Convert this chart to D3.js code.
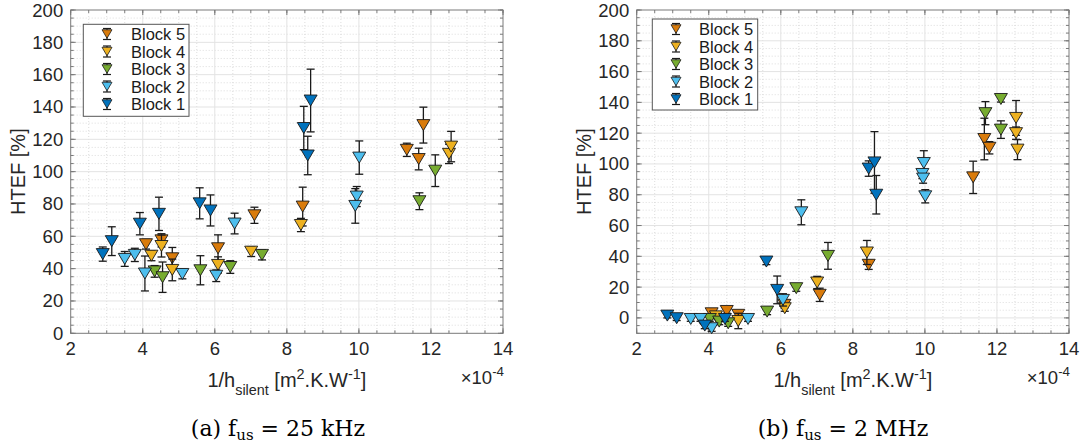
<!DOCTYPE html>
<html><head><meta charset="utf-8">
<script src="https://cdn.jsdelivr.net/npm/d3@7"></script>
<style>body{margin:0;background:#fff} svg{display:block}</style>
</head><body><svg id="c" width="1085" height="448"></svg>
<script>
// ---------------- DATA ----------------
const BLOCKS = ["Block 5", "Block 4", "Block 3", "Block 2", "Block 1"];
const X_TICKS = [2, 4, 6, 8, 10, 12, 14];
const Y_TICKS = [0, 20, 40, 60, 80, 100, 120, 140, 160, 180, 200];
const X_EXPONENT = "-4";
const CAPTIONS = [["(a) f", "us", "=", "25 kHz"], ["(b) f", "us", "=", "2 MHz"]];

// [1/h_silent (x1e-4), HTEF %, error]
const khz25_block5 = [[4.09,55.1,3],[4.52,57.5,4.1],[4.82,46.4,6.7],[6.09,52.6,8.3],[7.10,73,5],[8.44,78.4,12],[11.33,113.5,4.1],[11.66,107.8,6.7],[11.79,128.8,11.1]];
const khz25_block4 = [[4.24,48,3.1],[4.52,54,6.8],[4.82,39.2,6.7],[6.09,42.3,5],[7.01,50.5,3],[8.39,67,4.1],[12.50,111,6],[12.56,115.5,9.4]];
const khz25_block3 = [[4.33,38.3,3.6],[4.55,34.7,9.4],[5.60,39,9],[6.43,41,3.9],[7.31,48.5,3.1],[11.68,81.7,5.2],[12.12,100.6,9.8]];
const khz25_block2 = [[3.50,46,4.6],[3.78,48.5,4.1],[4.06,37,10.8],[5.10,36.7,3],[6.04,35.6,3.6],[6.55,67.9,6.4],[10.01,108.7,10.3],[9.94,84.6,6.2],[9.90,78.8,10.7]];
const khz25_block1 = [[2.89,49,4.4],[3.14,57,8.9],[3.92,67.8,6.9],[4.45,73.9,10.3],[5.58,80.4,9.6],[5.88,76,9.6],[8.47,127,13.4],[8.66,144,19.4],[8.58,110,11.9]];

const mhz2_block5 = [[4.08,3,1.5],[4.50,4.5,1.5],[4.82,2,2],[6.10,8.5,2],[7.08,15,4.3],[8.44,34.5,3],[11.34,91.3,10.5],[11.65,116.2,13.5],[11.79,110.5,4]];
const mhz2_block4 = [[4.20,1,1.5],[4.82,-2,5],[6.11,6.3,2],[7.01,23,4],[8.39,42.5,7.8],[12.53,129.9,11.3],[12.53,120,4],[12.57,109.3,6.5]];
const mhz2_block3 = [[4.03,-0.7,1.5],[4.29,-2.4,2],[4.54,-3.5,2],[5.62,4.1,2],[6.43,19.3,2],[7.31,40.3,8.7],[11.68,133,7.5],[12.11,142.2,2],[12.11,122.3,5.7]];
const mhz2_block2 = [[3.50,-0.7,1.5],[3.77,-0.7,1.5],[4.08,-6.7,2],[5.09,-0.7,1.5],[6.06,11.7,4],[6.57,68.6,8.1],[9.93,93.5,3],[9.95,90.5,3],[9.97,100.6,8],[10.01,79,4.3]];
const mhz2_block1 = [[2.85,1.5,1.5],[3.11,-0.2,1.5],[3.89,-5,2],[4.45,-0.7,1.5],[5.60,36.6,2],[5.90,18.2,9],[8.44,97,5],[8.60,101,20],[8.65,80,12.5]];

// ---------------- STYLE / LAYOUT ----------------
const COLORS = ["#D97B0B", "#EDB120", "#77AC30", "#4DBEEE", "#0072BD"];
const panels = [
  { series: [khz25_block5, khz25_block4, khz25_block3, khz25_block2, khz25_block1],
    left: 70.7, right: 503, top: 10, bottom: 333.3, yDomain: [0, 200],
    legend: { x: 83.3, y: 24.3, w: 105.7, h: 92, rows: [34, 51.5, 69, 86.5, 104], mx: 107, tx: 131 },
    captionX: 278, ylabelX: 25 },
  { series: [mhz2_block5, mhz2_block4, mhz2_block3, mhz2_block2, mhz2_block1],
    left: 636.7, right: 1069, top: 10, bottom: 333.3, yDomain: [-10, 200],
    legend: { x: 652.3, y: 19, w: 105.4, h: 91, rows: [29, 46.5, 64, 81.5, 99], mx: 676, tx: 699 },
    captionX: 843, ylabelX: 591 }
];

const svg = d3.select("#c");
const FONT = "'Liberation Sans', Arial, Helvetica, sans-serif";

function richText(g, x, y, segs, size, anchor) {
  const t = g.append("text").attr("x", x).attr("y", y)
    .attr("font-family", FONT).attr("font-size", size).attr("fill", "#262626")
    .attr("text-anchor", anchor || "start");
  let cur = 0;
  segs.forEach(s => {
    const target = s.m === "sub" ? size * 0.38 : s.m === "sup" ? -size * 0.42 : 0;
    t.append("tspan").attr("dy", target - cur)
      .attr("font-size", s.m ? size * 0.72 : size).text(s.t);
    cur = target;
  });
  return t;
}

function trianglePath(w, h) {
  return `M${-w/2},${-h/2}L${w/2},${-h/2}L0,${h/2}Z`;
}

panels.forEach((p, pi) => {
  const x = d3.scaleLinear().domain([2, 14]).range([p.left, p.right]);
  const y = d3.scaleLinear().domain(p.yDomain).range([p.bottom, p.top]);
  const g = svg.append("g");

  const xMinor = d3.range(2, 14.001, 0.5);
  const yMinor = d3.range(p.yDomain[0], 200.001, 5);

  // minor grid (dotted)
  g.append("g").selectAll("line.xm").data(xMinor.filter(v => v % 2 !== 0)).join("line")
    .attr("x1", d => x(d)).attr("x2", d => x(d)).attr("y1", p.top).attr("y2", p.bottom)
    .attr("stroke", "#cfcfcf").attr("stroke-width", 0.7).attr("stroke-dasharray", "1,2");
  g.append("g").selectAll("line.ym").data(yMinor.filter(v => v % 20 !== 0)).join("line")
    .attr("y1", d => y(d)).attr("y2", d => y(d)).attr("x1", p.left).attr("x2", p.right)
    .attr("stroke", "#cfcfcf").attr("stroke-width", 0.7).attr("stroke-dasharray", "1,2");
  // major grid
  g.append("g").selectAll("line").data(X_TICKS.slice(1, -1)).join("line")
    .attr("x1", d => x(d)).attr("x2", d => x(d)).attr("y1", p.top).attr("y2", p.bottom)
    .attr("stroke", "#e3e3e3").attr("stroke-width", 1);
  g.append("g").selectAll("line").data(Y_TICKS.filter(v => v > p.yDomain[0] && v < 200)).join("line")
    .attr("y1", d => y(d)).attr("y2", d => y(d)).attr("x1", p.left).attr("x2", p.right)
    .attr("stroke", "#e3e3e3").attr("stroke-width", 1);

  // box + ticks
  g.append("rect").attr("x", p.left).attr("y", p.top).attr("width", p.right - p.left)
    .attr("height", p.bottom - p.top).attr("fill", "none").attr("stroke", "#7a7a7a").attr("stroke-width", 1);
  const tk = g.append("g").attr("stroke", "#7a7a7a").attr("stroke-width", 1);
  X_TICKS.forEach(v => {
    tk.append("line").attr("x1", x(v)).attr("x2", x(v)).attr("y1", p.bottom).attr("y2", p.bottom - 5);
    tk.append("line").attr("x1", x(v)).attr("x2", x(v)).attr("y1", p.top).attr("y2", p.top + 5);
  });
  xMinor.forEach(v => {
    tk.append("line").attr("x1", x(v)).attr("x2", x(v)).attr("y1", p.bottom).attr("y2", p.bottom - 3);
    tk.append("line").attr("x1", x(v)).attr("x2", x(v)).attr("y1", p.top).attr("y2", p.top + 3);
  });
  Y_TICKS.forEach(v => {
    tk.append("line").attr("y1", y(v)).attr("y2", y(v)).attr("x1", p.left).attr("x2", p.left + 5);
    tk.append("line").attr("y1", y(v)).attr("y2", y(v)).attr("x1", p.right).attr("x2", p.right - 5);
  });
  yMinor.forEach(v => {
    tk.append("line").attr("y1", y(v)).attr("y2", y(v)).attr("x1", p.left).attr("x2", p.left + 3);
    tk.append("line").attr("y1", y(v)).attr("y2", y(v)).attr("x1", p.right).attr("x2", p.right - 3);
  });

  // tick labels
  g.append("g").selectAll("text").data(X_TICKS).join("text")
    .attr("x", d => x(d)).attr("y", p.bottom + 21.5).attr("text-anchor", "middle")
    .attr("font-family", FONT).attr("font-size", 18.5).attr("fill", "#262626").text(d => d);
  g.append("g").selectAll("text").data(Y_TICKS).join("text")
    .attr("x", p.left - 7.5).attr("y", d => y(d) + 6.5).attr("text-anchor", "end")
    .attr("font-family", FONT).attr("font-size", 18.5).attr("fill", "#262626").text(d => d);

  // axis labels
  richText(g, (p.left + p.right) / 2, 387,
    [{t: "1/h"}, {t: "silent", m: "sub"}, {t: " [m"}, {t: "2", m: "sup"}, {t: ".K.W"}, {t: "-1", m: "sup"}, {t: "]"}],
    20, "middle");
  richText(g, p.right + 1, 383.5, [{t: "\u00d710"}, {t: X_EXPONENT, m: "sup"}], 18.5, "end");
  g.append("text").attr("transform", `translate(${p.ylabelX},${(p.top + p.bottom) / 2}) rotate(-90)`)
    .attr("text-anchor", "middle").attr("font-family", FONT).attr("font-size", 20)
    .attr("fill", "#262626").text("HTEF [%]");

  // data: series drawn in legend order (Block 5 first, Block 1 on top)
  p.series.forEach((pts, si) => {
    const sg = g.append("g");
    pts.forEach(d => {
      const cx = x(d[0]), y1 = y(d[1] - d[2]), y2 = y(d[1] + d[2]);
      sg.append("line").attr("x1", cx).attr("x2", cx).attr("y1", y1).attr("y2", y2)
        .attr("stroke", "#1a1a1a").attr("stroke-width", 1.3);
      [y1, y2].forEach(yy => sg.append("line").attr("x1", cx - 4).attr("x2", cx + 4)
        .attr("y1", yy).attr("y2", yy).attr("stroke", "#1a1a1a").attr("stroke-width", 1.3));
    });
    sg.selectAll("path").data(pts).join("path")
      .attr("d", trianglePath(13, 11))
      .attr("transform", d => `translate(${x(d[0])},${y(d[1])})`)
      .attr("fill", COLORS[si]).attr("stroke", "#1a1a1a").attr("stroke-width", 0.9);
  });

  // legend
  const L = p.legend;
  const lg = g.append("g");
  lg.append("rect").attr("x", L.x).attr("y", L.y).attr("width", L.w).attr("height", L.h)
    .attr("fill", "#fff").attr("stroke", "#555").attr("stroke-width", 1);
  BLOCKS.forEach((name, i) => {
    const cy = L.rows[i];
    lg.append("line").attr("x1", L.mx).attr("x2", L.mx).attr("y1", cy - 5.5).attr("y2", cy + 5.5)
      .attr("stroke", "#1a1a1a").attr("stroke-width", 1.2);
    [cy - 5.5, cy + 5.5].forEach(yy => lg.append("line").attr("x1", L.mx - 4).attr("x2", L.mx + 4)
      .attr("y1", yy).attr("y2", yy).attr("stroke", "#1a1a1a").attr("stroke-width", 1.2));
    lg.append("path").attr("d", trianglePath(10, 8.5)).attr("transform", `translate(${L.mx},${cy})`)
      .attr("fill", COLORS[i]).attr("stroke", "#1a1a1a").attr("stroke-width", 0.8);
    lg.append("text").attr("x", L.tx).attr("y", cy + 6).attr("font-family", FONT)
      .attr("font-size", 16.5).attr("fill", "#1a1a1a").text(name);
  });

  // caption
  const c = CAPTIONS[pi];
  const ct = svg.append("text").attr("x", p.captionX).attr("y", 436).attr("text-anchor", "middle")
    .attr("font-family", "'DejaVu Serif', 'Liberation Serif', serif").attr("font-size", 22).attr("fill", "#000");
  ct.append("tspan").text(c[0]);
  ct.append("tspan").attr("dy", 4).attr("font-size", 15).text(c[1]);
  ct.append("tspan").attr("dy", -4).attr("dx", 7).text(c[2]);
  ct.append("tspan").attr("dx", 7).text(c[3]);
});
</script></body></html>
